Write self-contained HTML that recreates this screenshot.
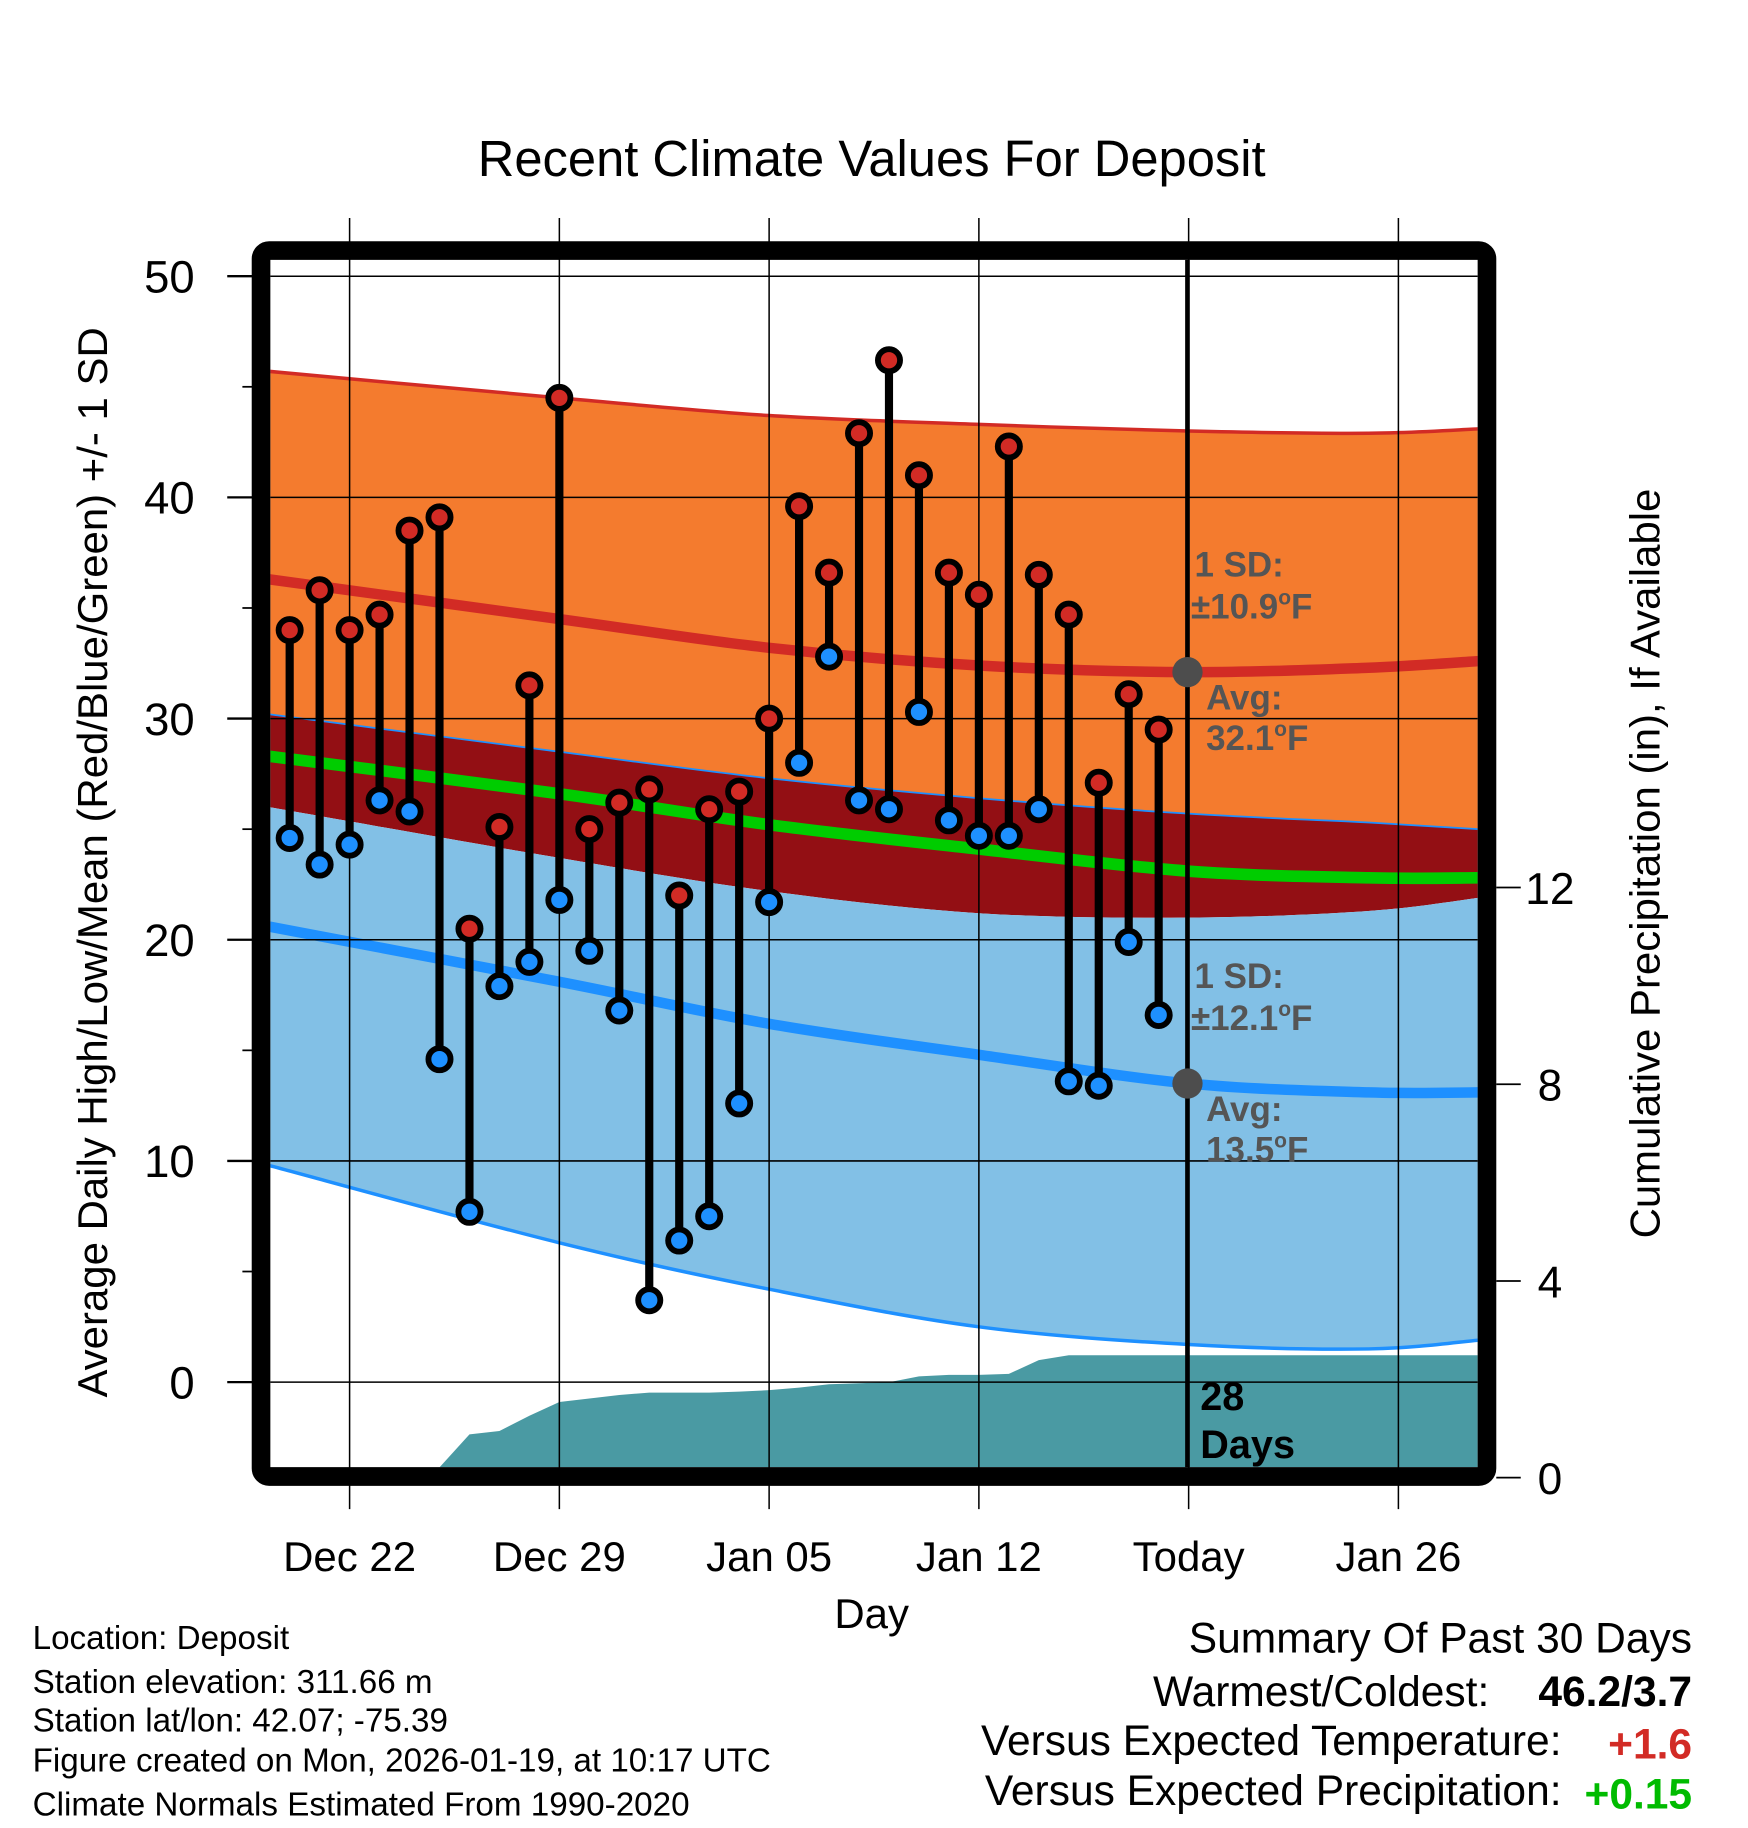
<!DOCTYPE html>
<html><head><meta charset="utf-8"><style>
html,body{margin:0;padding:0;background:#fff;}
svg{display:block;font-family:"Liberation Sans",Arial,sans-serif;}
</style></head><body>
<svg id="chart" width="1748" height="1828" viewBox="0 0 1500 1568.6" xmlns="http://www.w3.org/2000/svg">
<defs><clipPath id="plotclip"><rect x="232" y="223" width="1036" height="1036"/></clipPath></defs>
<text x="748" y="151" font-size="43.5" text-anchor="middle">Recent Climate Values For Deposit</text>
<g id="plot" clip-path="url(#plotclip)"></g>
<g id="grid"></g>
<g id="marks" clip-path="url(#plotclip)"></g>
<rect x="224" y="215" width="1052" height="1052" rx="7" fill="none" stroke="#000" stroke-width="16"/>
<g id="axes"></g>
<text transform="translate(92,740) rotate(-90)" font-size="36" text-anchor="middle">Average Daily High/Low/Mean (Red/Blue/Green) +/- 1 SD</text>
<text transform="translate(1424,741) rotate(-90)" font-size="36" text-anchor="middle">Cumulative Precipitation (in), If Available</text>
<text x="748" y="1397" font-size="36" text-anchor="middle">Day</text>
<g font-size="28.5">
<text x="28" y="1415">Location: Deposit</text>
<text x="28" y="1453">Station elevation: 311.66 m</text>
<text x="28" y="1486">Station lat/lon: 42.07; -75.39</text>
<text x="28" y="1520">Figure created on Mon, 2026-01-19, at 10:17 UTC</text>
<text x="28" y="1558">Climate Normals Estimated From 1990-2020</text>
</g>
<g font-size="36.5">
<text x="1452" y="1418" text-anchor="end">Summary Of Past 30 Days</text>
<text x="1278" y="1464" text-anchor="end">Warmest/Coldest:</text>
<text x="1452" y="1464" text-anchor="end" font-weight="bold">46.2/3.7</text>
<text x="1340" y="1506" text-anchor="end">Versus Expected Temperature:</text>
<text x="1452" y="1509" text-anchor="end" font-weight="bold" fill="#d22b25">+1.6</text>
<text x="1340" y="1549" text-anchor="end">Versus Expected Precipitation:</text>
<text x="1452" y="1552" text-anchor="end" font-weight="bold" fill="#00bb00">+0.15</text>
</g>
<script>
// ---- data ----
const normDays = [-30.7, -21, -14, -7, 0, 6, 9.7];
const highPlusSD = [45.7, 44.5, 43.7, 43.3, 43.0, 42.9, 43.1];
const normHigh = [36.3, 34.5, 33.2, 32.4, 32.1, 32.3, 32.6];
const highMinusSD = [30.2, 28.5, 27.3, 26.4, 25.7, 25.3, 25.0];
const normMean = [28.3, 26.6, 25.2, 24.1, 23.1, 22.8, 22.8];
const lowPlusSD = [26.0, 23.7, 22.2, 21.2, 21.0, 21.3, 21.9];
const normLow = [20.6, 18.1, 16.2, 14.8, 13.5, 13.1, 13.1];
const lowMinusSD = [9.8, 6.3, 4.2, 2.5, 1.7, 1.5, 1.9];
const dailyHigh = [34.0,35.8,34.0,34.7,38.5,39.1,20.5,25.1,31.5,44.5,25.0,26.2,26.8,22.0,25.9,26.7,30.0,39.6,36.6,42.9,46.2,41.0,36.6,35.6,42.3,36.5,34.7,27.1,31.1,29.5];
const dailyLow = [24.6,23.4,24.3,26.3,25.8,14.6,7.7,17.9,19.0,21.8,19.5,16.8,3.7,6.4,7.5,12.6,21.7,28.0,32.8,26.3,25.9,30.3,25.4,24.7,24.7,25.9,13.6,13.4,19.9,16.6];
const cumPrecip = [0,0,0,0,0,0.21,0.88,0.95,1.26,1.54,1.61,1.68,1.73,1.73,1.73,1.75,1.78,1.83,1.90,1.92,1.94,2.06,2.09,2.09,2.11,2.39,2.49,2.49,2.49,2.49];
const firstDay = -30; // Dec 20 relative to today
const xTickDays = [-28, -21, -14, -7, 0, 7];
const xTickLabels = ["Dec 22", "Dec 29", "Jan 05", "Jan 12", "Today", "Jan 26"];
const yTicks = [0, 10, 20, 30, 40, 50];
const y2Ticks = [0, 4, 8, 12];

// ---- scales ----
const X = d => 1020 + d * (180 / 7);
const Y = v => 1186 - v * 18.98;
const Y2 = p => 1268 - p * 42.2;
const NS = "http://www.w3.org/2000/svg";
function mk(tag, attrs, parent) {
  const e = document.createElementNS(NS, tag);
  for (const k in attrs) e.setAttribute(k, attrs[k]);
  parent.appendChild(e); return e;
}
const plot = document.getElementById('plot');
const grid = document.getElementById('grid');
const marks = document.getElementById('marks');
const axes = document.getElementById('axes');

function pts(arr) { return normDays.map((d, i) => [X(d), Y(arr[i])]); }
function curve(p) {
  let s = "";
  for (let i = 0; i < p.length - 1; i++) {
    const p0 = p[Math.max(0, i - 1)], p1 = p[i], p2 = p[i + 1], p3 = p[Math.min(p.length - 1, i + 2)];
    const c1 = [p1[0] + (p2[0] - p0[0]) / 6, p1[1] + (p2[1] - p0[1]) / 6];
    const c2 = [p2[0] - (p3[0] - p1[0]) / 6, p2[1] - (p3[1] - p1[1]) / 6];
    s += " C" + c1 + " " + c2 + " " + p2;
  }
  return s;
}
function smooth(p) { return "M" + p[0] + curve(p); }
function band(top, bot, fill, name) {
  const a = pts(top), b = pts(bot).reverse();
  const d = smooth(a) + " L" + b[0] + curve(b) + " Z";
  const e = mk('path', { d: d, fill: fill }, plot);
  
  
}
function line(arr, color, w, name) {
  const e = mk('path', { d: smooth(pts(arr)), fill: "none", stroke: color, "stroke-width": w }, plot);
  
  
}
band(highPlusSD, highMinusSD, "#f47b2e", "high-sd-band");
band(highMinusSD, lowPlusSD, "#930f14", "mean-band");
band(lowPlusSD, lowMinusSD, "#82c0e6", "low-sd-band");
line(highPlusSD, "#d22b25", 3, "high-plus-sd-line");
line(normHigh, "#d22b25", 9, "normal-high-line");
line(highMinusSD, "#1e90ff", 1.5, "high-minus-sd-line");
line(normMean, "#00cc00", 10, "normal-mean-line");
line(normLow, "#1e90ff", 9, "normal-low-line");
line(lowMinusSD, "#1e90ff", 3, "low-minus-sd-line");

// precip area
{
  let d = "M" + X(firstDay) + "," + Y2(0);
  cumPrecip.forEach((p, i) => { d += " L" + X(firstDay + i) + "," + Y2(p); });
  d += " L1270," + Y2(cumPrecip[cumPrecip.length - 1]) + " L1270," + Y2(0) + " Z";
  const e = mk('path', { d: d, fill: "#4a9aa3" }, plot);
  
  
}

// grid
yTicks.forEach(v => {
  const e = mk('line', { x1: 232, x2: 1268, y1: Y(v), y2: Y(v), stroke: "#000", "stroke-width": 1.3 }, grid);
  
  
});
xTickDays.forEach(d => {
  const e = mk('line', { x1: X(d), x2: X(d), y1: 187, y2: 1295, stroke: "#000", "stroke-width": 1.3 }, grid);
  
  
});
{
  const t = mk('line', { x1: 1019, x2: 1019, y1: 223, y2: 1259, stroke: "#000", "stroke-width": 4 }, grid);
  
  
}

// daily marks
dailyHigh.forEach((h, i) => {
  const x = X(firstDay + i), yh = Y(h), yl = Y(dailyLow[i]);
  const s = mk('line', { x1: x, x2: x, y1: yh, y2: yl, stroke: "#000", "stroke-width": 7 }, marks);
  
  
  const ch = mk('circle', { cx: x, cy: yh, r: 9.5, fill: "#d22b25", stroke: "#000", "stroke-width": 5 }, marks);
  
  
  const cl = mk('circle', { cx: x, cy: yl, r: 9.5, fill: "#1e90ff", stroke: "#000", "stroke-width": 5 }, marks);
  
  
});

// text annotations
function txt(x, y, s, size, fill, name, deg) {
  const e = mk('text', { x: x, y: y, "font-size": size, "font-weight": "bold", fill: fill }, marks);
  e.appendChild(document.createTextNode(s));
  if (deg) {
    const o = mk('tspan', { "font-size": size * 0.6, dy: -size * 0.4 }, e);
    o.textContent = "o";
    const f = mk('tspan', { dy: size * 0.4 }, e);
    f.textContent = "F";
  }
  
  
}
[[Y(32.1), "±10.9", "32.1", "high"], [Y(13.5), "±12.1", "13.5", "low"]].forEach(a => {
  const dot = mk('circle', { cx: 1019, cy: a[0], r: 13, fill: "#4d4d4d" }, marks);
  
  
  txt(1025, a[0] - 82, "1 SD:", 30, "#555", a[3] + '-sd-label', false);
  txt(1022, a[0] - 46, a[1], 30, "#555", a[3] + '-sd-value', true);
  txt(1035, a[0] + 32, "Avg:", 30, "#555", a[3] + '-avg-label', false);
  txt(1035, a[0] + 67, a[2], 30, "#555", a[3] + '-avg-value', true);
});
txt(1030, 1210, "28", 34, "#000", "days-count", false);
txt(1030, 1251, "Days", 34, "#000", "days-label", false);

// axes ticks & labels
yTicks.forEach(v => {
  const e = mk('line', { x1: 195, x2: 218, y1: Y(v), y2: Y(v), stroke: "#000", "stroke-width": 2 }, axes);
  
  
  const t = mk('text', { x: 167, y: Y(v) + 14, "font-size": 39, "text-anchor": "end" }, axes);
  t.textContent = v;
  
  
});
[5, 15, 25, 35, 45].forEach(v => {
  const e = mk('line', { x1: 208, x2: 218, y1: Y(v), y2: Y(v), stroke: "#000", "stroke-width": 1.5 }, axes);
  
  
});
y2Ticks.forEach(p => {
  const e = mk('line', { x1: 1284, x2: 1305, y1: Y2(p), y2: Y2(p), stroke: "#000", "stroke-width": 1.5 }, axes);
  
  
  const t = mk('text', { x: 1330, y: Y2(p) + 14, "font-size": 38, "text-anchor": "middle" }, axes);
  t.textContent = p;
  
  
});
xTickDays.forEach((d, i) => {
  const t = mk('text', { x: X(d), y: 1348, "font-size": 36, "text-anchor": "middle" }, axes);
  t.textContent = xTickLabels[i];
  
  
});
</script>
</svg>
</body></html>
